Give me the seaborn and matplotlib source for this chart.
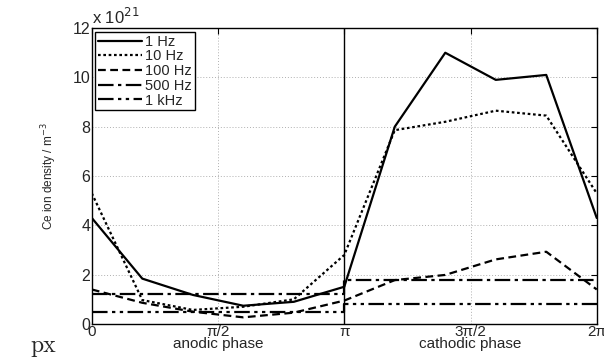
import numpy as np
import pandas as pd
import matplotlib
matplotlib.use("Agg")
import matplotlib.pyplot as plt
import seaborn as sns

# phase positions in units of pi
phase = [0, 0.2, 0.4, 0.6, 0.8, 1.0, 1.2, 1.4, 1.6, 1.8, 2.0]
dens_1hz = [4.3, 1.84, 1.18, 0.74, 0.9, 1.51, 8.0, 11.0, 9.9, 10.1, 4.3]
dens_10hz = [5.3, 0.97, 0.57, 0.7, 1.0, 2.8, 7.86, 8.2, 8.65, 8.45, 5.3]
dens_100hz = [1.4, 0.86, 0.5, 0.27, 0.46, 0.95, 1.78, 1.99, 2.62, 2.93, 1.4]
# step series (anodic / cathodic constant levels)
phase_step = [0, 1.0, 1.0, 2.0]
dens_500hz = [1.2, 1.2, 1.8, 1.8]
dens_1khz = [0.5, 0.5, 0.81, 0.81]

labels = ["1 Hz", "10 Hz", "100 Hz", "500 Hz", "1 kHz"]
tick_pos = [0, 0.5, 1.0, 1.5, 2.0]
tick_labels = ["0", "π/2\nanodic phase", "π", "3π/2\ncathodic phase", "2π"]

sns.set_style("white")
plt.rcParams["font.family"] = ["Liberation Sans", "DejaVu Sans"]

fig = plt.figure(figsize=(6.04, 3.6), dpi=100)
ax = fig.add_axes([0.152, 0.1, 0.836, 0.822])

series = [
    (phase, dens_1hz, "-"),
    (phase, dens_10hz, (0, (1.2, 1.2))),
    (phase, dens_100hz, (0, (3.5, 2))),
    (phase_step, dens_500hz, (0, (7, 2, 1.5, 2))),
    (phase_step, dens_1khz, (0, (7, 2, 1.5, 2, 1.5, 2))),
]
for (xs, ys, ls), lab in zip(series, labels):
    df = pd.DataFrame({"x": np.array(xs) * np.pi, "y": ys})
    sns.lineplot(data=df, x="x", y="y", ax=ax, color="black", lw=1.6,
                 linestyle=ls, estimator=None, sort=False, label=lab)

ax.axvline(np.pi, color="black", lw=1.0)

ax.set_xlim(0, 2 * np.pi)
ax.set_ylim(0, 12)
ax.set_xticks(np.array(tick_pos) * np.pi)
ax.set_xticklabels(tick_labels, fontsize=11, linespacing=0.8)
ax.set_yticks(range(0, 13, 2))
ax.tick_params(axis="y", labelsize=11.5, pad=1)
ax.tick_params(direction="in", length=4, top=True, right=True, width=0.8, color="black")
ax.tick_params(axis="x", pad=1)
ax.grid(True, color="#b0b0b0", linestyle=(0, (1, 2)), lw=0.7)
for s in ax.spines.values():
    s.set_color("black")
    s.set_linewidth(1.0)

ax.set_xlabel("")
ax.set_ylabel("Ce ion density / m$^{-3}$", fontsize=8.5, labelpad=10)
ax.text(0.0, 1.005, r"x 10$^{21}$", transform=ax.transAxes, fontsize=12,
        ha="left", va="bottom")

leg = ax.legend(loc="upper left", fontsize=10.5, handlelength=3.0, handletextpad=0.2,
                borderpad=0.2, labelspacing=0.05, borderaxespad=0.25,
                frameon=True, fancybox=False, framealpha=1)
leg.get_frame().set_edgecolor("black")
leg.get_frame().set_linewidth(1.0)

fig.text(0.05, 0.04, "px", family="cmr10", fontsize=17, ha="left", va="center")

fig.savefig("out.png", dpi=100)
